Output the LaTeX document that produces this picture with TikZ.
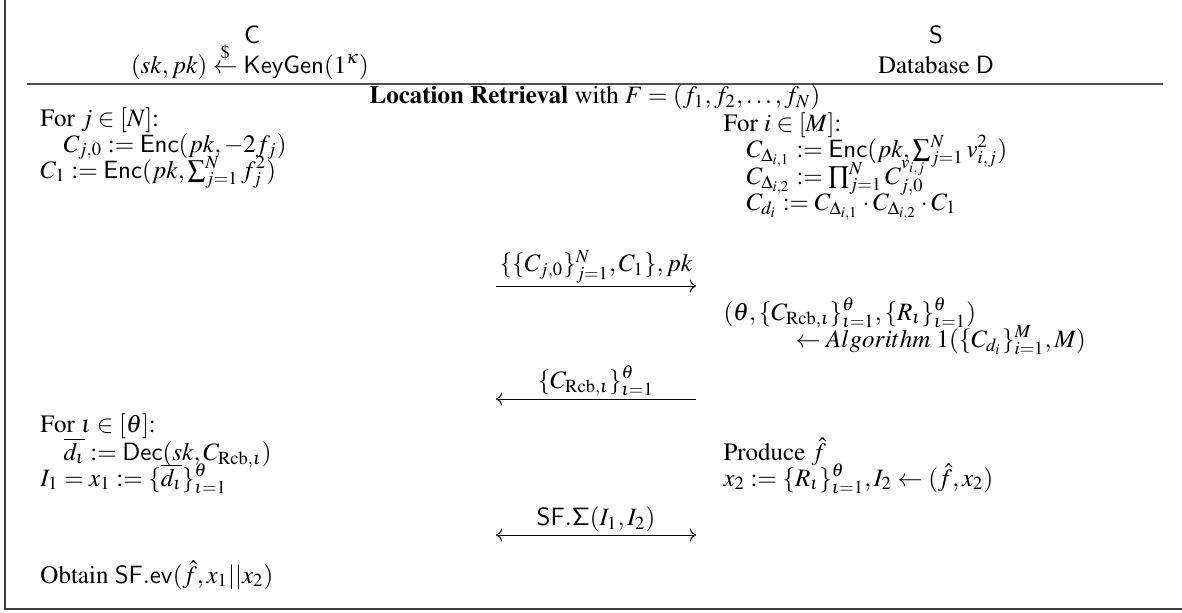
\documentclass[tikz,border=0pt]{standalone}
\usepackage[T1]{fontenc}
\usepackage{amsmath}
\usepackage{mathptmx}
\usetikzlibrary{arrows.meta}
\definecolor{framegray}{RGB}{60,60,60}
\definecolor{rulegray}{RGB}{80,80,80}

\begin{document}
\begin{tikzpicture}[x=0.4pt, y=-0.4pt,
  txt/.style={anchor=base west, inner sep=0pt},
  hdr/.style={anchor=base, inner sep=0pt},
  msg/.style={line width=0.4pt},
  lbl/.style={above=1pt, inner sep=0pt}]
\useasboundingbox (0,0) rectangle (1182,613);
% Frame
\draw[framegray, line width=0.7pt] (5,0) -- (5,609) -- (1182,609);

% Parties
\node[hdr] (cli) at (252,43) {$\mathsf{C}$};
\node[hdr] (keygen) at (250,73) {$(sk,pk)\overset{\$}{\leftarrow}\mathsf{KeyGen}(1^{\kappa})$};
\node[hdr] (srv) at (936,43) {$\mathsf{S}$};
\node[hdr] (db) at (936,73) {Database $\mathsf{D}$};
\draw[rulegray, line width=0.5pt] (27,84) -- (1163,84);
\node[hdr] (title) at (595,104) {\textbf{Location Retrieval} with $F=(f_1,f_2,\ldots,f_N)$};

% Client, step 1
\node[txt] (forj) at (40,126) {For $j\in[N]$:};
\node[txt] (encj) at (63,152) {$C_{j,0}:=\mathsf{Enc}(pk,-2f_j)$};
\node[txt] (encone) at (40,178) {$C_1:=\mathsf{Enc}(pk,\sum_{j=1}^{N}f_j^2)$};

% Server, step 1
\node[txt] (fori) at (723,131) {For $i\in[M]$:};
\node[txt] (delone) at (746,157) {$C_{\Delta_{i,1}}:=\mathsf{Enc}(pk,\sum_{j=1}^{N}v_{i,j}^2)$};
\node[txt] (deltwo) at (746,184) {$C_{\Delta_{i,2}}:=\prod_{j=1}^{N}C_{j,0}^{v_{i,j}}$};
\node[txt] (dist) at (746,210) {$C_{d_i}:=C_{\Delta_{i,1}}\cdot C_{\Delta_{i,2}}\cdot C_1$};

% Message 1
\coordinate (mone-a) at (496,286);
\coordinate (mone-b) at (696,286);
\draw[msg, -{To}] (mone-a) -- node[lbl] (mone) {$\{\{C_{j,0}\}_{j=1}^{N},C_1\},pk$} (mone-b);

% Server, step 2
\node[txt] (theta) at (723,320) {$(\theta,\{C_{\mathrm{Rcb},\iota}\}_{\iota=1}^{\theta},\{R_{\iota}\}_{\iota=1}^{\theta})$};
\node[txt] (algo) at (795,347) {$\leftarrow Algorithm\ 1(\{C_{d_i}\}_{i=1}^{M},M)$};

% Message 2
\coordinate (mtwo-a) at (496,399);
\coordinate (mtwo-b) at (696,399);
\draw[msg, {To}-] (mtwo-a) -- node[lbl] (mtwo) {$\{C_{\mathrm{Rcb},\iota}\}_{\iota=1}^{\theta}$} (mtwo-b);

% Client, step 2
\node[txt] (foriota) at (40,432) {For $\iota\in[\theta]$:};
\node[txt] (dec) at (63,460) {$\overline{d_{\iota}}:=\mathsf{Dec}(sk,C_{\mathrm{Rcb},\iota})$};
\node[txt] (xone) at (40,486) {$I_1=x_1:=\{\overline{d_{\iota}}\}_{\iota=1}^{\theta}$};

% Server, step 3
\node[txt] (prod) at (723,460) {Produce $\hat{f}$};
\node[txt] (xtwo) at (723,486) {$x_2:=\{R_{\iota}\}_{\iota=1}^{\theta},I_2\leftarrow(\hat{f},x_2)$};

% Message 3
\coordinate (mthree-a) at (496,535);
\coordinate (mthree-b) at (696,535);
\draw[msg, {To}-{To}] (mthree-a) -- node[lbl] (mthree) {$\mathsf{SF}.\mathsf{\Sigma}(I_1,I_2)$} (mthree-b);

% Client, output
\node[txt] (obtain) at (40,583) {Obtain $\mathsf{SF.ev}(\hat{f},x_1||x_2)$};
\end{tikzpicture}
\end{document}
